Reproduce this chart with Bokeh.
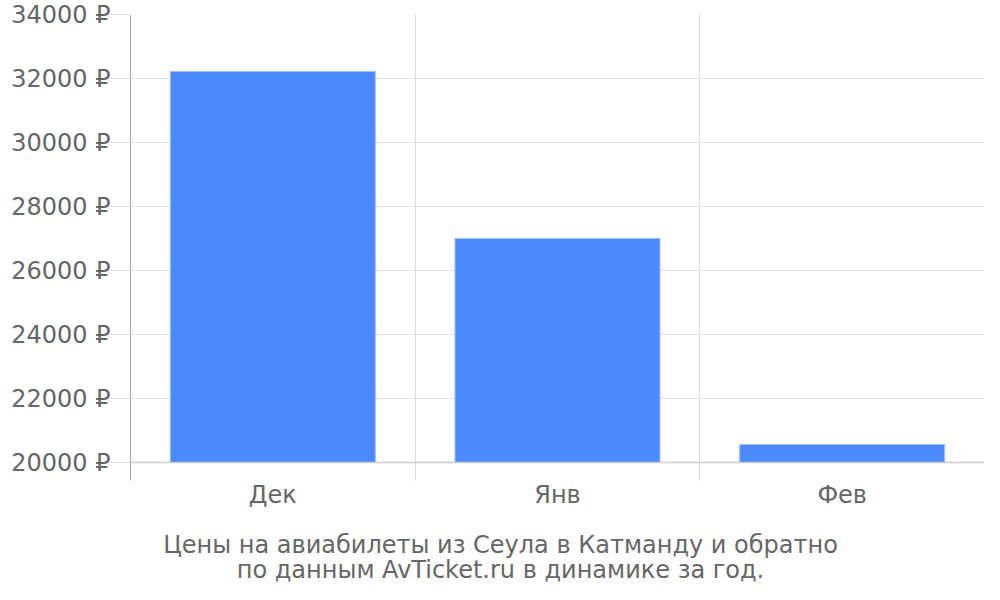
from bokeh.plotting import figure
from bokeh.layouts import column
from bokeh.models import Range1d, FixedTicker, Span, ColumnDataSource
from bokeh.core.properties import value
from bokeh.embed import file_html
from bokeh.resources import INLINE

months = ["Дек", "Янв", "Фев"]
prices = [32220, 27000, 20560]
y_ticks = [20000, 22000, 24000, 26000, 28000, 30000, 32000, 34000]
title_lines = ["Цены на авиабилеты из Сеула в Катманду и обратно",
               "по данным AvTicket.ru в динамике за год."]

FONT = "DejaVu Sans"
GRAY = "#666666"

x_pos = [i + 0.5 for i in range(len(months))]
src = ColumnDataSource(dict(x=x_pos, top=prices, bottom=[20000] * len(prices)))

p = figure(width=984, height=511, output_backend="svg", toolbar_location=None,
           x_range=Range1d(0, len(months)), y_range=Range1d(19437.5, 34000),
           min_border_left=130, min_border_right=0, min_border_top=14,
           min_border_bottom=31)
p.outline_line_color = None
p.background_fill_color = "white"

p.vbar(x="x", top="top", bottom="bottom", width=0.72, source=src,
       fill_color="#4c8afb", line_color="#9cbefc", line_width=1)

# y axis
yax = p.yaxis[0]
yax.ticker = FixedTicker(ticks=y_ticks)
yax.major_label_overrides = {t: f"{t} ₽" for t in y_ticks}
yax.major_label_text_font = FONT
yax.major_label_text_font_size = "24px"
yax.major_label_text_color = GRAY
yax.major_tick_out = 20
yax.major_tick_in = 0
yax.major_tick_line_color = "#e0e0e0"
yax.minor_tick_line_color = None
yax.axis_line_color = "#a8a8a8"
yax.major_label_standoff = 0

# x axis
xax = p.xaxis[0]
xax.ticker = FixedTicker(ticks=x_pos)
xax.major_label_overrides = {x: m for x, m in zip(x_pos, months)}
xax.major_label_text_font = FONT
xax.major_label_text_font_size = "24px"
xax.major_label_text_color = GRAY
xax.major_tick_out = 0
xax.major_tick_in = 0
xax.major_tick_line_color = None
xax.minor_tick_line_color = None
xax.axis_line_color = None
xax.major_label_standoff = 0

p.ygrid[0].ticker = FixedTicker(ticks=y_ticks)
p.ygrid[0].grid_line_color = "#e0e0e0"
p.xgrid[0].ticker = FixedTicker(ticks=list(range(len(months) + 1)))
p.xgrid[0].grid_line_color = "#dddddd"

p.add_layout(Span(location=20000, dimension="width", line_color="#cccccc", line_width=1.5))

# caption figure: its frame is aligned with the main frame (130..984 px),
# so the x range is expressed in page pixels; y grows downward from its top.
cap = figure(width=984, height=73, output_backend="svg", toolbar_location=None,
             x_range=Range1d(130, 984), y_range=Range1d(73, 0),
             x_axis_location=None, y_axis_location=None,
             min_border_left=0, min_border_right=0, min_border_top=0,
             min_border_bottom=0)
cap.outline_line_color = None
cap.xgrid.visible = False
cap.ygrid.visible = False
cap.text(x=[500, 500], y=[33, 58], text=title_lines, text_align="center",
         text_baseline="middle", text_font=value(FONT), text_font_size="24px",
         text_color=GRAY)

layout = column(p, cap, spacing=0)
open("out.html", "w").write(file_html(layout, INLINE))
